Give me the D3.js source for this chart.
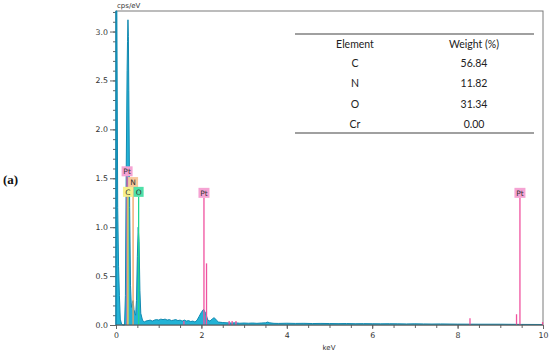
<!DOCTYPE html>
<html><head><meta charset="utf-8">
<script src="https://cdn.jsdelivr.net/npm/d3@7"></script>
<style>body{margin:0;background:#fff}svg{display:block}</style>
</head><body>
<svg id="c" width="550" height="353"></svg>
<script>
// Spectrum (keV, cps/eV)
const energy = [0.00,0.02,0.04,0.06,0.08,0.10,0.13,0.16,0.20,0.22,0.24,0.26,0.27,0.28,0.29,0.30,0.32,0.34,0.36,0.38,0.40,0.42,0.44,0.46,0.48,0.50,0.52,0.54,0.56,0.58,0.62,0.66,0.70,0.75,0.80,0.85,0.90,0.95,1.00,1.05,1.10,1.15,1.20,1.25,1.30,1.35,1.40,1.45,1.50,1.55,1.60,1.65,1.70,1.75,1.80,1.85,1.90,1.95,2.00,2.05,2.10,2.15,2.20,2.25,2.30,2.35,2.40,2.50,2.60,2.70,2.80,2.90,3.00,3.10,3.20,3.30,3.40,3.50,3.55,3.60,3.70,3.80,4.00,4.20,4.40,4.60,4.80,5.00,5.20,5.40,5.60,5.80,6.00,6.20,6.40,6.60,6.80,7.00,7.20,7.40,7.60,7.80,8.00,8.50,9.00,9.50,10.00];
const counts = [3.30,3.30,1.20,0.60,0.30,0.06,0.01,0.00,0.00,0.30,1.60,2.60,2.90,3.12,2.95,2.40,1.20,0.40,0.18,0.22,0.25,0.16,0.12,0.10,0.25,0.70,1.00,0.85,0.35,0.12,0.05,0.03,0.04,0.045,0.05,0.04,0.05,0.055,0.05,0.06,0.055,0.06,0.05,0.055,0.045,0.05,0.055,0.045,0.05,0.04,0.05,0.04,0.045,0.035,0.04,0.03,0.05,0.09,0.13,0.16,0.12,0.05,0.04,0.06,0.075,0.05,0.03,0.025,0.022,0.02,0.022,0.018,0.02,0.018,0.02,0.017,0.02,0.022,0.03,0.022,0.017,0.016,0.018,0.016,0.017,0.015,0.016,0.015,0.014,0.015,0.013,0.014,0.013,0.012,0.013,0.012,0.011,0.012,0.011,0.010,0.011,0.010,0.009,0.008,0.008,0.006,0.005];

// Element marker lines
const markerEl = ["Pt","C","N","O","Pt","Pt"];
const markerE  = [0.26,0.28,0.40,0.53,2.06,9.46];
const markerH  = [1.52,1.31,1.41,1.31,1.30,1.30];

// Minor Pt lines
const minorE = [1.59,2.12,2.65,2.72,2.81,8.29,9.38,9.99];
const minorH = [0.04,0.63,0.04,0.04,0.04,0.07,0.11,0.03];

// Table
const tblElement = ["C","N","O","Cr"];
const tblWeight  = ["56.84","11.82","31.34","0.00"];

const yTicks = [0.0,0.5,1.0,1.5,2.0,2.5,3.0];
const xTicks = [0,2,4,6,8,10];

const colors = {Pt:{fill:"#f5a3d3",line:"#f0529f"},C:{fill:"#f7f08c",line:"#e8d84a"},N:{fill:"#f8c89a",line:"#f0a060"},O:{fill:"#4fe0a8",line:"#22d68c"}};

const svg = d3.select("#c");
const x = d3.scaleLinear().domain([0,10]).range([116,543]);
const y = d3.scaleLinear().domain([0,3.21]).range([325,11]);

// frame
svg.append("rect").attr("x",x(0)).attr("y",y(3.21)).attr("width",x(10)-x(0)).attr("height",y(0)-y(3.21))
  .attr("fill","none").attr("stroke","#7a7a7a").attr("stroke-width",1);

// spectrum
const pts = energy.map((e,i)=>[e,Math.min(counts[i],3.21)]);
const area = d3.area().x(d=>x(d[0])).y0(y(0)).y1(d=>y(d[1]));
const line = d3.line().x(d=>x(d[0])).y(d=>y(d[1]));
svg.append("path").attr("d",area(pts)).attr("fill","#22b3d6");
svg.append("path").attr("d",line(pts)).attr("fill","none").attr("stroke","#1189b0").attr("stroke-width",1);

// minor lines
minorE.forEach((e,i)=>{
  svg.append("line").attr("x1",x(e)).attr("x2",x(e)).attr("y1",y(0)).attr("y2",y(minorH[i]))
    .attr("stroke","#f0529f").attr("stroke-width",1.3);
});

// marker lines
markerE.forEach((e,i)=>{
  const c = colors[markerEl[i]];
  svg.append("line").attr("x1",x(e)).attr("x2",x(e)).attr("y1",y(0)).attr("y2",y(markerH[i]))
    .attr("stroke",c.line).attr("stroke-width",1.3);
});
markerE.forEach((e,i)=>{
  const c = colors[markerEl[i]];
  const w = markerEl[i].length>1?11:10;
  const g = svg.append("g").attr("transform",`translate(${x(e)},${y(markerH[i])})`);
  g.append("rect").attr("x",-w/2).attr("y",-10).attr("width",w).attr("height",10).attr("fill",c.fill);
  g.append("text").attr("x",0).attr("y",-2).attr("text-anchor","middle")
    .attr("font-family","DejaVu Sans").attr("font-size",7.5).attr("fill","#333").text(markerEl[i]);
});

// axes
const yMinor = d3.range(0,33).map(i=>i/10);
const yAx = svg.append("g").attr("transform",`translate(${x(0)},0)`);
yAx.call(d3.axisLeft(y).tickValues(yMinor).tickSize(3).tickFormat(""));
yAx.call(g=>g.select(".domain").remove());
const yAxM = svg.append("g").attr("transform",`translate(${x(0)},0)`)
  .call(d3.axisLeft(y).tickValues(yTicks).tickSize(6).tickPadding(2).tickFormat(d3.format(".1f")));
yAxM.select(".domain").remove();
[yAx,yAxM].forEach(g=>{g.selectAll("line").attr("stroke","#666");});
yAxM.selectAll("text").attr("font-family","DejaVu Sans").attr("font-size",7.8).attr("fill","#333");
svg.append("line").attr("x1",x(0)).attr("x2",x(0)).attr("y1",y(0)).attr("y2",y(3.21)).attr("stroke","#1189b0").attr("stroke-width",1.5);

const xMinor = d3.range(0,21).map(i=>i/2);
const xAx = svg.append("g").attr("transform",`translate(0,${y(0)})`)
  .call(d3.axisBottom(x).tickValues(xMinor).tickSize(3).tickFormat(""));
xAx.select(".domain").remove();
const xAxM = svg.append("g").attr("transform",`translate(0,${y(0)})`)
  .call(d3.axisBottom(x).tickValues(xTicks).tickSize(4).tickPadding(3).tickFormat(d3.format("d")));
xAxM.select(".domain").remove();
[xAx,xAxM].forEach(g=>{g.selectAll("line").attr("stroke","#666");});
xAxM.selectAll("text").attr("font-family","DejaVu Sans").attr("font-size",7.8).attr("fill","#333");
svg.append("line").attr("x1",x(0)).attr("x2",x(10)).attr("y1",y(0)).attr("y2",y(0)).attr("stroke","#555").attr("stroke-width",1.2);

svg.append("text").attr("x",x(0)+1).attr("y",8).attr("font-family","DejaVu Sans").attr("font-size",7)
  .attr("fill","#333").text("cps/eV");
svg.append("text").attr("x",329).attr("y",350).attr("text-anchor","middle").attr("font-family","DejaVu Sans")
  .attr("font-size",7).attr("fill","#333").text("keV");

// label (a)
svg.append("text").attr("x",3).attr("y",184).attr("font-family","Liberation Serif").attr("font-weight","bold")
  .attr("font-size",13).attr("fill","#111").text("(a)");

// table
const tx1=295, tx2=534, c1=355, c2=474;
svg.append("rect").attr("x",tx1).attr("y",33).attr("width",tx2-tx1).attr("height",107).attr("fill","#fff");
svg.append("line").attr("x1",tx1).attr("x2",tx2).attr("y1",34).attr("y2",34).attr("stroke","#808080").attr("stroke-width",1.5);
svg.append("line").attr("x1",tx1).attr("x2",tx2).attr("y1",133).attr("y2",133).attr("stroke","#808080").attr("stroke-width",1.5);
const tf = "Lato", fs = 10.5;
svg.append("text").attr("x",c1).attr("y",47.5).attr("text-anchor","middle").attr("font-family",tf).attr("font-size",fs).attr("fill","#222").text("Element");
svg.append("text").attr("x",c2).attr("y",47.5).attr("text-anchor","middle").attr("font-family",tf).attr("font-size",fs).attr("fill","#222").text("Weight (%)");
tblElement.forEach((el,i)=>{
  const yy = 67 + i*20.3;
  svg.append("text").attr("x",c1).attr("y",yy).attr("text-anchor","middle").attr("font-family",tf).attr("font-size",fs).attr("fill","#222").text(el);
  svg.append("text").attr("x",c2).attr("y",yy).attr("text-anchor","middle").attr("font-family",tf).attr("font-size",fs).attr("fill","#222").text(tblWeight[i]);
});
</script>
</body></html>
